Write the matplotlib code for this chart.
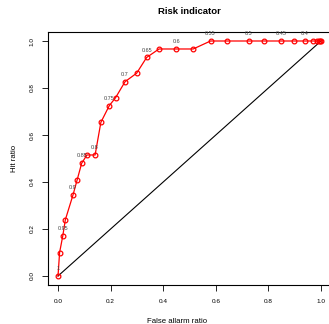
import matplotlib
matplotlib.use("Agg")
import matplotlib.pyplot as plt

plt.rcParams['font.family'] = ['Liberation Sans', 'DejaVu Sans']

far = [0.0, 0.006, 0.018, 0.028, 0.057, 0.073, 0.09, 0.11, 0.141, 0.163, 0.195, 0.219,
       0.255, 0.299, 0.337, 0.384, 0.45, 0.514, 0.58, 0.643, 0.725, 0.783, 0.847, 0.898,
       0.939, 0.971, 0.986, 0.993, 0.997, 1.0]
hit = [0.0, 0.10, 0.17, 0.24, 0.345, 0.41, 0.48, 0.515, 0.515, 0.654, 0.725, 0.759,
       0.827, 0.863, 0.93, 0.966, 0.966, 0.966, 1.0, 1.0, 1.0, 1.0, 1.0, 1.0,
       1.0, 1.0, 1.0, 1.0, 1.0, 1.0]
labels = ["1", "", "0.95", "", "0.9", "", "0.85", "", "0.8", "", "0.75", "", "0.7", "",
          "0.65", "", "0.6", "", "0.55", "", "0.5", "", "0.45", "", "0.4", "", "", "", "", ""]
ticks = [0.0, 0.2, 0.4, 0.6, 0.8, 1.0]
tick_labels = ["0.0", "0.2", "0.4", "0.6", "0.8", "1.0"]

fig = plt.figure(figsize=(3.29, 3.24), dpi=100)
ax = fig.add_axes([47.5/329, 38.6/324, 284/329, 253.8/324])
ax.set_xlim(-0.04, 1.04)
ax.set_ylim(-0.04, 1.04)

ax.plot([0, 1], [0, 1], color='black', lw=0.8)
ax.plot(far, hit, color='red', lw=0.9, marker='o', ms=3.4, mfc='none', mec='red', mew=0.9)
for x, y, t in zip(far, hit, labels):
    if t:
        ax.annotate(t, (x, y), xytext=(0, 3.5), textcoords='offset points',
                    ha='center', va='bottom', fontsize=4.0, color='#444444')

ax.set_xticks(ticks)
ax.set_xticklabels(tick_labels)
ax.set_yticks(ticks)
ax.set_yticklabels(tick_labels, rotation=90, va='center')
ax.tick_params(axis='both', length=4.5, width=0.6, labelsize=4.6, pad=5, color='black')
for s in ax.spines.values():
    s.set_linewidth(0.8)

fig.text(189/329, 1 - 12/324, "Risk indicator", ha='center', va='center',
         fontsize=6.8, fontweight='bold')
fig.text(177/329, 1 - 321.5/324, "False allarm ratio", ha='center', va='center', fontsize=5.6)
fig.text(14/329, 1 - 158/324, "Hit ratio", ha='center', va='center', fontsize=5.6, rotation=90)

fig.savefig("out.png", dpi=100)
